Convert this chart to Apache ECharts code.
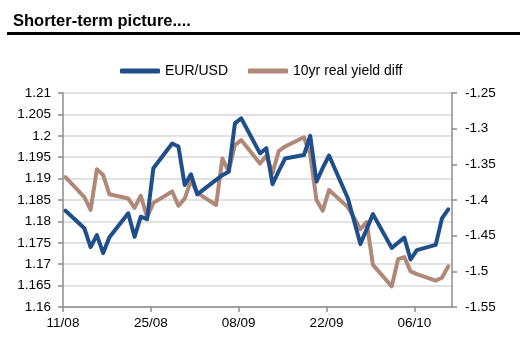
<!DOCTYPE html>
<html>
<head>
<meta charset="utf-8">
<title>Shorter-term picture</title>
<script src="https://cdn.jsdelivr.net/npm/echarts@6/dist/echarts.min.js"></script>
<style>
  html, body { margin: 0; padding: 0; background: #fff; }
  #chart { width: 520px; height: 347px; }
</style>
</head>
<body>
<div id="chart"></div>
<script>
// Trading days (dd/mm, 2017)
const dates = [
  '11/08','14/08','15/08','16/08','17/08','18/08',
  '21/08','22/08','23/08','24/08','25/08',
  '28/08','29/08','30/08','31/08','01/09',
  '04/09','05/09','06/09','07/09','08/09',
  '11/09','12/09','13/09','14/09','15/09',
  '18/09','19/09','20/09','21/09','22/09',
  '25/09','26/09','27/09','28/09','29/09',
  '02/10','03/10','04/10','05/10','06/10',
  '09/10','10/10','11/10'
];

// EUR/USD spot (left axis)
const eurUsd = [
  1.1825, 1.1784, 1.1740, 1.1768, 1.1726, 1.1763,
  1.1819, 1.1764, 1.1811, 1.1805, 1.1924,
  1.1982, 1.1975, 1.1885, 1.1910, 1.1863,
  1.1897, 1.1908, 1.1916, 1.2029, 1.2041,
  1.1959, 1.1971, 1.1887, 1.1918, 1.1947,
  1.1955, 1.2000, 1.1893, 1.1925, 1.1954,
  1.1854, 1.1801, 1.1747, 1.1782, 1.1817,
  1.1738, 1.1750, 1.1762, 1.1711, 1.1733,
  1.1745, 1.1807, 1.1828
];

// 10y real yield differential (right axis)
const realYieldDiff = [
  -1.368, -1.396, -1.414, -1.357, -1.365, -1.392,
  -1.398, -1.411, -1.394, -1.424, -1.404,
  -1.388, -1.408, -1.398, -1.372, -1.390,
  -1.407, -1.342, -1.360, -1.323, -1.316,
  -1.349, -1.338, -1.362, -1.331, -1.325,
  -1.312, -1.336, -1.400, -1.415, -1.386,
  -1.410, -1.425, -1.441, -1.431, -1.491,
  -1.521, -1.483, -1.480, -1.500, -1.504,
  -1.513, -1.509, -1.493
];

// Date-axis tick labels, one every 14 days from the first date
const xTickLabels = ['11/08', '25/08', '08/09', '22/09', '06/10'];
const xTickStep = 14;
const xSpanDays = 62;

const seriesNames = ['EUR/USD', '10yr real yield diff'];

// Day count from the first date, so the axis behaves like a calendar axis
const monthStart = [0, 31, 59, 90, 120, 151, 181, 212, 243, 273, 304, 334];
function dayOfYear(s) {
  const [d, m] = s.split('/').map(Number);
  return monthStart[m - 1] + d;
}
const day0 = dayOfYear(dates[0]);
// each point sits a little inside its day slot
const xs = dates.map(s => dayOfYear(s) - day0 + 0.4);

const font = "'Liberation Sans', Arial, Helvetica, sans-serif";
const axisGrey = '#8c8c8c';

const chart = echarts.init(document.getElementById('chart'), null, { renderer: 'canvas' });
chart.setOption({
  animation: false,
  backgroundColor: '#fff',
  textStyle: { fontFamily: font, color: '#000' },
  title: {
    text: 'Shorter-term picture....',
    left: 8,
    top: 8,
    textStyle: { fontFamily: font, fontSize: 16.5, fontWeight: 'bold', color: '#000' }
  },
  graphic: [{
    type: 'rect',
    shape: { x: 7, y: 32, width: 513, height: 3 },
    style: { fill: '#000' },
    silent: true
  }],
  legend: {
    data: seriesNames,
    left: 115,
    top: 59,
    itemWidth: 40,
    itemHeight: 5,
    itemGap: 20,
    icon: 'roundRect',
    textStyle: { fontFamily: font, fontSize: 14, color: '#000', padding: [0, 0, 0, 0] }
  },
  grid: { left: 63, right: 68, top: 93, bottom: 40, containLabel: false },
  xAxis: {
    type: 'value',
    min: 0,
    max: xSpanDays,
    interval: xTickStep,
    axisLine: { show: true, lineStyle: { color: axisGrey, width: 1.5 } },
    axisTick: { show: true, length: 5, lineStyle: { color: axisGrey, width: 1.5 } },
    splitLine: { show: false },
    axisLabel: {
      margin: 9,
      fontFamily: font,
      fontSize: 13.5,
      color: '#000',
      showMaxLabel: false,
      formatter: v => {
        const k = v / xTickStep;
        return Number.isInteger(k) && xTickLabels[k] ? xTickLabels[k] : '';
      }
    }
  },
  yAxis: [{
    type: 'value',
    position: 'left',
    min: 1.16,
    max: 1.21,
    interval: 0.005,
    axisLine: { show: true, lineStyle: { color: axisGrey, width: 1.5 } },
    axisTick: { show: true, length: 5, lineStyle: { color: axisGrey, width: 1.5 } },
    splitLine: { show: true, lineStyle: { color: '#d9d9d9', width: 1.5 } },
    axisLabel: { margin: 12, fontFamily: font, fontSize: 13.5, color: '#000' }
  }, {
    type: 'value',
    position: 'right',
    min: -1.55,
    max: -1.25,
    interval: 0.05,
    axisLine: { show: true, lineStyle: { color: axisGrey, width: 1.5 } },
    axisTick: { show: true, length: 5, lineStyle: { color: axisGrey, width: 1.5 } },
    splitLine: { show: false },
    axisLabel: { margin: 13, fontFamily: font, fontSize: 13.5, color: '#000' }
  }],
  series: [{
    name: seriesNames[0],
    type: 'line',
    yAxisIndex: 0,
    showSymbol: false,
    color: '#1f4f8b',
    lineStyle: { width: 4, color: '#1f4f8b', cap: 'round', join: 'round' },
    data: xs.map((x, i) => [x, eurUsd[i]]),
    z: 3
  }, {
    name: seriesNames[1],
    type: 'line',
    yAxisIndex: 1,
    showSymbol: false,
    color: '#b08878',
    lineStyle: { width: 4, color: '#b08878', cap: 'round', join: 'round' },
    data: xs.map((x, i) => [x, realYieldDiff[i]]),
    z: 2
  }]
});
</script>
</body>
</html>
